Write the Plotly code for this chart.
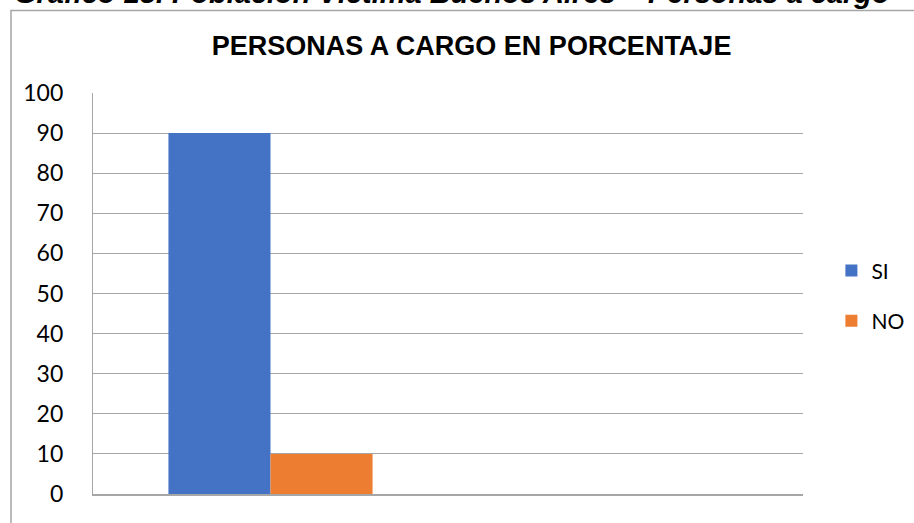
import plotly.graph_objects as go

# datos
categorias = ["Personas a cargo", " "]
si = [90, None]
no = [10, None]
series = ["SI", "NO"]
colores = ["#4472C4", "#ED7D31"]
ticks_y = list(range(0, 101, 10))

encabezado = "Gráfico 18. Población Víctima Buenos Aires – Personas a cargo"
titulo = "PERSONAS A CARGO EN PORCENTAJE"

fig = go.Figure()
for nombre, valores, cor in zip(series, [si, no], colores):
    fig.add_trace(go.Bar(x=categorias, y=valores, name=nombre, legendgroup=nombre,
                         marker=dict(color=cor, line=dict(width=0))))

fig.update_layout(
    width=914, height=523,
    margin=dict(l=93, r=111, t=93, b=29, autoexpand=False),
    paper_bgcolor="white", plot_bgcolor="white",
    barmode="group", bargap=0.425, bargroupgap=0,
    title=dict(text="<b>" + titulo + "</b>", x=0.516, xanchor="center",
               y=0.912, yanchor="middle",
               font=dict(family="Liberation Sans", size=27, color="black")),
    legend=dict(x=1.04, xanchor="left", y=0.494, yanchor="middle",
                tracegroupgap=20, font=dict(family="Lato", size=21, color="black"),
                itemwidth=30),
    showlegend=True,
)
fig.update_xaxes(showticklabels=False, showgrid=False, showline=True,
                 linecolor="#a6a6a6", linewidth=1.5)
fig.update_yaxes(range=[0, 100], tickvals=ticks_y, showgrid=True,
                 gridcolor="#a6a6a6", gridwidth=1.2, showline=True,
                 linecolor="#a6a6a6", linewidth=1.2, zeroline=False,
                 ticklabelstandoff=24,
                 tickfont=dict(family="Lato", size=23, color="black"))

# marco del grafico
fig.add_shape(type="rect", xref="paper", yref="paper",
              x0=-0.1155, x1=1.2, y0=-0.2, y1=1.206,
              line=dict(color="#a6a6a6", width=1.5), fillcolor="rgba(0,0,0,0)",
              layer="below")

# encabezado cortado arriba
fig.add_annotation(text="<b><i>" + encabezado + "</i></b>", xref="paper", yref="paper",
                   x=-0.114, xanchor="left", y=1.25, yanchor="middle",
                   showarrow=False,
                   font=dict(family="Liberation Sans", size=29, color="black"))

fig.write_html("out.html", config={"displayModeBar": False},
               post_script="document.body.style.margin='0';")
